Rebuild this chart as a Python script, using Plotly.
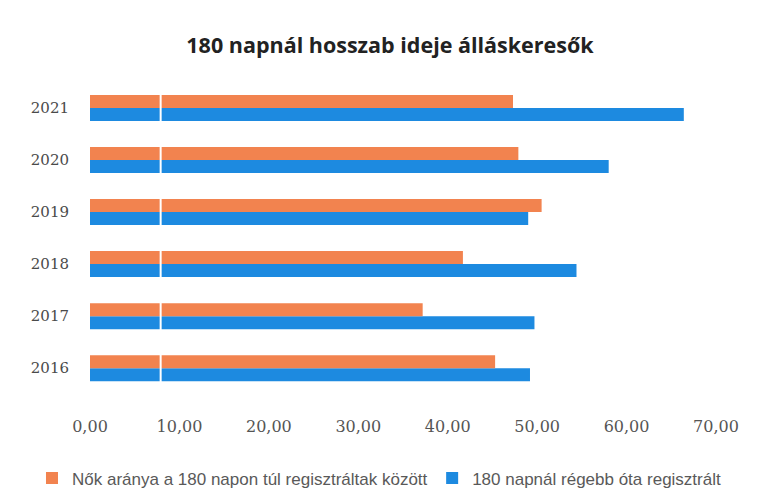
import plotly.graph_objects as go

years = ["2016", "2017", "2018", "2019", "2020", "2021"]
women_share = [45.3, 37.2, 41.7, 50.5, 47.9, 47.3]
long_term = [49.2, 49.7, 54.4, 49.0, 58.0, 66.4]
x_ticks = [0, 10, 20, 30, 40, 50, 60, 70]
x_tick_labels = ["0,00", "10,00", "20,00", "30,00", "40,00", "50,00", "60,00", "70,00"]

name_women = "Nők aránya a 180 napon túl regisztráltak között"
name_long = "180 napnál régebb óta regisztrált"

fig = go.Figure()
fig.add_trace(go.Bar(y=years, x=long_term, name=name_long, orientation="h",
                     legend="legend2", showlegend=True,
                     marker=dict(color="#1D8AE0", line=dict(width=0))))
fig.add_trace(go.Bar(y=years, x=women_share, name=name_women, orientation="h",
                     legend="legend", showlegend=True,
                     marker=dict(color="#F2834F", line=dict(width=0))))

legend_font = dict(family="Liberation Sans, sans-serif", size=17, color="#595959")

fig.update_layout(
    width=774, height=490,
    showlegend=True,
    paper_bgcolor="white", plot_bgcolor="white",
    margin=dict(l=82, r=66, t=74, b=83),
    barmode="group", bargap=0.5, bargroupgap=0,
    title=dict(text="<b>180 napnál hosszab ideje álláskeresők</b>",
               x=0.4935, xanchor="center", y=0.9245, yanchor="middle",
               font=dict(family="Open Sans, Liberation Sans, sans-serif", size=21.5, color="#222")),
    xaxis=dict(range=[0, 70], tickvals=x_ticks, ticktext=x_tick_labels,
               showgrid=False, zeroline=False, showline=False, ticks="",
               tickfont=dict(family="DejaVu Serif, serif", size=16, color="#555")),
    yaxis=dict(type="category", categoryorder="array", categoryarray=years,
               range=[-0.9, 5.5], showgrid=False, zeroline=False, showline=False,
               ticks="", ticklabelstandoff=20,
               tickfont=dict(family="DejaVu Serif, serif", size=15, color="#4a4a4a")),
    legend=dict(orientation="h", xref="container", yref="container",
                x=0.031, xanchor="left", y=0.04, yanchor="middle",
                bgcolor="rgba(0,0,0,0)",
                itemwidth=30, font=legend_font, visible=True),
    legend2=dict(orientation="h", xref="container", yref="container",
                 x=0.548, xanchor="left", y=0.04, yanchor="middle",
                 bgcolor="rgba(0,0,0,0)",
                 itemwidth=30, font=legend_font, visible=True),
    shapes=[dict(type="line", xref="x", yref="paper", x0=7.9, x1=7.9, y0=0.05, y1=0.97,
                 line=dict(color="white", width=2), layer="above")],
)

fig.write_html("out.html")
